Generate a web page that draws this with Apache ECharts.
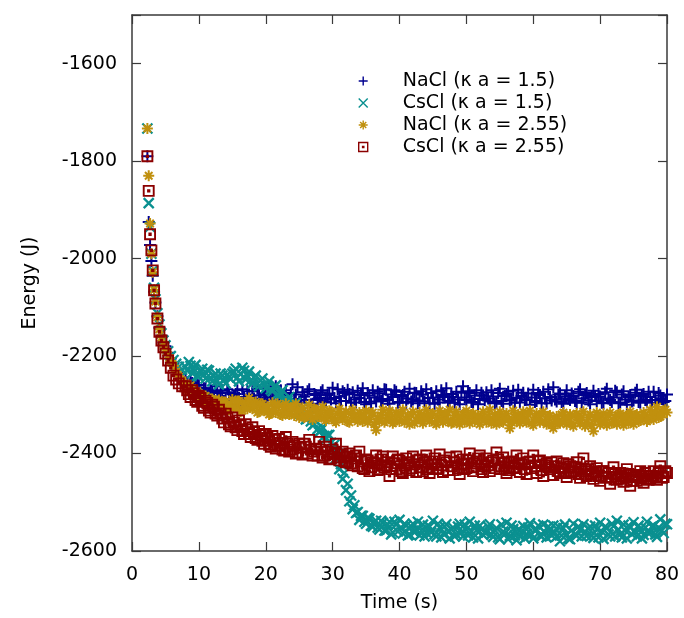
<!DOCTYPE html>
<html>
<head>
<meta charset="utf-8">
<title>Energy vs Time</title>
<script src="https://cdn.jsdelivr.net/npm/echarts@6/dist/echarts.min.js"></script>
<style>
    html, body { margin: 0; padding: 0; background: #fff; }
    #chart { width: 684px; height: 618px; }
</style>
</head>
<body>
<div id="chart"></div>
<script>
// sampling times (s), half-second records
const time = [
    2.3, 2.5, 2.7, 2.9, 3.1, 3.3, 3.5, 3.8, 4.1, 4.4, 4.7, 5.0, 5.4, 5.8, 6.2, 6.6, 7.0, 7.5,
    8, 8.5, 9, 9.5, 10, 10.5, 11, 11.5, 12, 12.5,
    13, 13.5, 14, 14.5, 15, 15.5, 16, 16.5, 17, 17.5,
    18, 18.5, 19, 19.5, 20, 20.5, 21, 21.5, 22, 22.5,
    23, 23.5, 24, 24.5, 25, 25.5, 26, 26.5, 27, 27.5,
    28, 28.5, 29, 29.5, 30, 30.5, 31, 31.5, 32, 32.5,
    33, 33.5, 34, 34.5, 35, 35.5, 36, 36.5, 37, 37.5,
    38, 38.5, 39, 39.5, 40, 40.5, 41, 41.5, 42, 42.5,
    43, 43.5, 44, 44.5, 45, 45.5, 46, 46.5, 47, 47.5,
    48, 48.5, 49, 49.5, 50, 50.5, 51, 51.5, 52, 52.5,
    53, 53.5, 54, 54.5, 55, 55.5, 56, 56.5, 57, 57.5,
    58, 58.5, 59, 59.5, 60, 60.5, 61, 61.5, 62, 62.5,
    63, 63.5, 64, 64.5, 65, 65.5, 66, 66.5, 67, 67.5,
    68, 68.5, 69, 69.5, 70, 70.5, 71, 71.5, 72, 72.5,
    73, 73.5, 74, 74.5, 75, 75.5, 76, 76.5, 77, 77.5,
    78, 78.5, 79, 79.5, 80
];

// in-between records (quarter offsets)
const timeQ = [
    8.25, 8.75, 9.25, 9.75, 10.25, 10.75, 11.25, 11.75, 12.25, 12.75,
    13.25, 13.75, 14.25, 14.75, 15.25, 15.75, 16.25, 16.75, 17.25, 17.75,
    18.25, 18.75, 19.25, 19.75, 20.25, 20.75, 21.25, 21.75, 22.25, 22.75,
    23.25, 23.75, 24.25, 24.75, 25.25, 25.75, 26.25, 26.75, 27.25, 27.75,
    28.25, 28.75, 29.25, 29.75, 30.25, 30.75, 31.25, 31.75, 32.25, 32.75,
    33.25, 33.75, 34.25, 34.75, 35.25, 35.75, 36.25, 36.75, 37.25, 37.75,
    38.25, 38.75, 39.25, 39.75, 40.25, 40.75, 41.25, 41.75, 42.25, 42.75,
    43.25, 43.75, 44.25, 44.75, 45.25, 45.75, 46.25, 46.75, 47.25, 47.75,
    48.25, 48.75, 49.25, 49.75, 50.25, 50.75, 51.25, 51.75, 52.25, 52.75,
    53.25, 53.75, 54.25, 54.75, 55.25, 55.75, 56.25, 56.75, 57.25, 57.75,
    58.25, 58.75, 59.25, 59.75, 60.25, 60.75, 61.25, 61.75, 62.25, 62.75,
    63.25, 63.75, 64.25, 64.75, 65.25, 65.75, 66.25, 66.75, 67.25, 67.75,
    68.25, 68.75, 69.25, 69.75, 70.25, 70.75, 71.25, 71.75, 72.25, 72.75,
    73.25, 73.75, 74.25, 74.75, 75.25, 75.75, 76.25, 76.75, 77.25, 77.75,
    78.25, 78.75, 79.25, 79.75
];

// NaCl (κ a = 1.5)
const nacl15 = [
    -1790, -1925, -1972, -2005, -2035, -2068, -2090, -2118, -2142, -2158, -2172, -2180, -2193, -2205, -2214, -2226, -2236, -2244,
    -2248, -2262, -2255, -2270, -2260, -2275, -2266, -2280, -2271, -2262,
    -2284, -2270, -2288, -2274, -2292, -2278, -2286, -2268, -2290, -2279,
    -2272, -2291, -2281, -2295, -2276, -2266, -2289, -2262, -2284, -2294,
    -2270, -2288, -2258, -2279, -2296, -2274, -2290, -2268, -2298, -2280,
    -2286, -2270, -2293, -2277, -2265, -2297, -2283, -2272, -2292, -2278,
    -2274, -2295, -2286, -2266, -2299, -2281, -2270, -2293, -2277, -2288,
    -2269, -2298, -2284, -2273, -2294, -2280, -2296, -2267, -2289, -2276,
    -2291, -2279, -2268, -2297, -2285, -2272, -2295, -2280, -2266, -2292,
    -2284, -2273, -2299, -2262, -2290, -2276, -2296, -2270, -2288, -2281,
    -2274, -2293, -2283, -2296, -2267, -2298, -2278, -2291, -2271, -2286,
    -2295, -2275, -2289, -2300, -2269, -2292, -2280, -2273, -2297, -2284,
    -2264, -2293, -2277, -2298, -2270, -2290, -2282, -2296, -2268, -2287,
    -2276, -2299, -2271, -2292, -2283, -2297, -2267, -2290, -2285, -2274,
    -2295, -2272, -2300, -2280, -2291, -2269, -2296, -2278, -2293, -2284,
    -2273, -2297, -2281, -2294, -2279
];
const nacl15Q = [
    -2258, -2251, -2268, -2259, -2274, -2266, -2281, -2270, -2285, -2274,
    -2276, -2292, -2268, -2288, -2282, -2270, -2296, -2284, -2272, -2293,
    -2287, -2267, -2294, -2279, -2290, -2284, -2275, -2297, -2270, -2286,
    -2293, -2276, -2288, -2264, -2291, -2283, -2272, -2299, -2278, -2290,
    -2274, -2295, -2280, -2289, -2286, -2268, -2292, -2276, -2269, -2296,
    -2289, -2271, -2280, -2294, -2276, -2297, -2285, -2273, -2292, -2268,
    -2290, -2279, -2270, -2296, -2282, -2273, -2287, -2293, -2275, -2297,
    -2272, -2293, -2286, -2276, -2298, -2289, -2270, -2284, -2295, -2278,
    -2296, -2289, -2275, -2285, -2272, -2294, -2281, -2299, -2275, -2290,
    -2287, -2270, -2297, -2276, -2292, -2282, -2273, -2289, -2296, -2269,
    -2282, -2290, -2277, -2285, -2294, -2276, -2297, -2287, -2268, -2291,
    -2289, -2279, -2294, -2283, -2287, -2277, -2292, -2273, -2295, -2280,
    -2291, -2284, -2282, -2278, -2296, -2274, -2287, -2294, -2271, -2297,
    -2279, -2289, -2284, -2293, -2275, -2294, -2282, -2290, -2273, -2296,
    -2290, -2276, -2288, -2292
];

// CsCl (κ a = 1.5)
const cscl15 = [
    -1733, -1886, -1935, -1990, -2025, -2060, -2083, -2112, -2135, -2153, -2168, -2178, -2190, -2200, -2208, -2216, -2222, -2228,
    -2222, -2212, -2235, -2218, -2242, -2226, -2246, -2230, -2252, -2236,
    -2258, -2240, -2256, -2244, -2236, -2226, -2252, -2224, -2248, -2232,
    -2256, -2240, -2262, -2246, -2266, -2252, -2272, -2260, -2284, -2270,
    -2296, -2284, -2308, -2296, -2318, -2306, -2330, -2320, -2342, -2334,
    -2356, -2346, -2370, -2362, -2392, -2410, -2432, -2452, -2475, -2498,
    -2514, -2522, -2536, -2528, -2544, -2534, -2550, -2538, -2556, -2542,
    -2558, -2540, -2562, -2546, -2536, -2564, -2548, -2566, -2544, -2555,
    -2568, -2546, -2562, -2550, -2538, -2570, -2552, -2564, -2545, -2574,
    -2552, -2566, -2544, -2570, -2556, -2540, -2572, -2558, -2548, -2567,
    -2562, -2545, -2571, -2553, -2576, -2560, -2542, -2569, -2555, -2578,
    -2570, -2549, -2565, -2543, -2574, -2556, -2568, -2546, -2572, -2558,
    -2548, -2570, -2580, -2553, -2566, -2576, -2544, -2568, -2557, -2545,
    -2569, -2550, -2573, -2556, -2542, -2575, -2553, -2570, -2549, -2538,
    -2566, -2546, -2574, -2552, -2541, -2570, -2555, -2567, -2540, -2562,
    -2548, -2571, -2535, -2563, -2545
];
const cscl15Q = [
    -2230, -2220, -2226, -2240, -2232, -2238, -2228, -2244, -2240, -2250,
    -2236, -2250, -2238, -2247, -2232, -2244, -2236, -2230, -2240, -2250,
    -2244, -2256, -2250, -2258, -2262, -2268, -2264, -2278, -2276, -2290,
    -2292, -2302, -2300, -2312, -2316, -2322, -2328, -2334, -2340, -2350,
    -2352, -2364, -2362, -2378, -2382, -2400, -2422, -2440, -2462, -2486,
    -2506, -2520, -2528, -2540, -2532, -2548, -2540, -2552, -2538, -2558,
    -2546, -2566, -2540, -2560, -2552, -2544, -2568, -2550, -2562, -2540,
    -2558, -2570, -2548, -2562, -2566, -2544, -2572, -2550, -2560, -2556,
    -2570, -2550, -2562, -2546, -2568, -2560, -2548, -2574, -2556, -2562,
    -2550, -2566, -2558, -2572, -2546, -2564, -2576, -2548, -2568, -2556,
    -2560, -2574, -2552, -2566, -2558, -2548, -2570, -2562, -2550, -2568,
    -2562, -2550, -2568, -2546, -2574, -2558, -2566, -2550, -2570, -2560,
    -2554, -2568, -2548, -2572, -2560, -2550, -2566, -2544, -2570, -2556,
    -2572, -2558, -2548, -2566, -2560, -2548, -2574, -2552, -2564, -2550,
    -2566, -2552, -2558, -2544
];

// NaCl (κ a = 2.55)
const nacl255 = [
    -1733, -1830, -1928, -1990, -2028, -2064, -2088, -2120, -2145, -2162, -2176, -2187, -2198, -2210, -2220, -2232, -2242, -2250,
    -2256, -2270, -2266, -2282, -2276, -2293, -2282, -2296, -2288, -2300,
    -2290, -2306, -2294, -2310, -2289, -2304, -2292, -2312, -2296, -2286,
    -2308, -2294, -2314, -2298, -2310, -2320, -2296, -2316, -2302, -2322,
    -2298, -2320, -2306, -2298, -2326, -2306, -2324, -2300, -2330, -2310,
    -2324, -2304, -2332, -2312, -2328, -2336, -2308, -2330, -2314, -2336,
    -2310, -2328, -2316, -2334, -2312, -2330, -2316, -2352, -2334, -2310,
    -2332, -2312, -2338, -2316, -2334, -2310, -2330, -2340, -2314, -2332,
    -2316, -2338, -2310, -2334, -2318, -2340, -2312, -2336, -2322, -2310,
    -2336, -2314, -2340, -2320, -2312, -2338, -2318, -2330, -2340, -2314,
    -2336, -2310, -2332, -2340, -2314, -2336, -2318, -2348, -2312, -2334,
    -2338, -2314, -2336, -2312, -2342, -2318, -2336, -2314, -2340, -2322,
    -2348, -2324, -2338, -2316, -2340, -2320, -2344, -2318, -2338, -2314,
    -2336, -2320, -2354, -2316, -2340, -2318, -2342, -2316, -2336, -2340,
    -2318, -2342, -2322, -2314, -2340, -2320, -2332, -2316, -2334, -2310,
    -2330, -2304, -2324, -2312, -2316
];
const nacl255Q = [
    -2268, -2260, -2280, -2272, -2292, -2282, -2298, -2288, -2304, -2292,
    -2302, -2294, -2310, -2298, -2306, -2292, -2314, -2300, -2308, -2296,
    -2302, -2316, -2298, -2312, -2304, -2318, -2308, -2298, -2320, -2310,
    -2318, -2306, -2322, -2312, -2310, -2326, -2316, -2322, -2308, -2324,
    -2316, -2328, -2320, -2314, -2332, -2318, -2326, -2320, -2334, -2318,
    -2326, -2334, -2320, -2324, -2336, -2318, -2340, -2328, -2322, -2336,
    -2320, -2328, -2334, -2322, -2318, -2336, -2324, -2320, -2338, -2326,
    -2330, -2322, -2326, -2320, -2336, -2326, -2330, -2318, -2332, -2338,
    -2322, -2330, -2324, -2336, -2328, -2320, -2334, -2322, -2326, -2330,
    -2324, -2338, -2320, -2326, -2334, -2322, -2330, -2336, -2326, -2320,
    -2326, -2332, -2320, -2338, -2326, -2330, -2320, -2334, -2324, -2340,
    -2330, -2336, -2320, -2332, -2326, -2338, -2322, -2330, -2326, -2344,
    -2326, -2342, -2330, -2324, -2336, -2330, -2322, -2338, -2326, -2320,
    -2332, -2326, -2338, -2328, -2322, -2334, -2326, -2320, -2330, -2322,
    -2316, -2326, -2320, -2310
];

// CsCl (κ a = 2.55)
const cscl255 = [
    -1790, -1861, -1950, -1983, -2024, -2065, -2092, -2123, -2150, -2168, -2182, -2195, -2209, -2224, -2240, -2248, -2256, -2262,
    -2262, -2278, -2270, -2290, -2282, -2302, -2292, -2312, -2300, -2318,
    -2310, -2328, -2318, -2340, -2326, -2346, -2332, -2354, -2340, -2360,
    -2346, -2368, -2354, -2374, -2360, -2382, -2364, -2390, -2370, -2392,
    -2366, -2396, -2376, -2400, -2380, -2402, -2386, -2372, -2404, -2390,
    -2376, -2408, -2386, -2412, -2392, -2380, -2414, -2396, -2418, -2400,
    -2424, -2404, -2396, -2430, -2412, -2436, -2418, -2404, -2432, -2406,
    -2424, -2446, -2406, -2432, -2414, -2440, -2410, -2434, -2406, -2438,
    -2412, -2436, -2404, -2440, -2416, -2432, -2402, -2438, -2418, -2408,
    -2434, -2406, -2442, -2412, -2430, -2400, -2436, -2416, -2404, -2438,
    -2410, -2436, -2414, -2398, -2432, -2408, -2440, -2418, -2430, -2404,
    -2438, -2410, -2442, -2416, -2404, -2440, -2414, -2446, -2420, -2432,
    -2444, -2416, -2440, -2420, -2448, -2426, -2436, -2418, -2450, -2410,
    -2446, -2426, -2452, -2430, -2456, -2436, -2448, -2462, -2428, -2454,
    -2440, -2458, -2432, -2466, -2444, -2456, -2436, -2460, -2446, -2452,
    -2436, -2454, -2426, -2448, -2440
];
const cscl255Q = [
    -2270, -2284, -2276, -2294, -2286, -2306, -2296, -2316, -2304, -2322,
    -2318, -2336, -2326, -2344, -2336, -2352, -2342, -2360, -2350, -2366,
    -2356, -2372, -2362, -2380, -2368, -2386, -2372, -2384, -2378, -2394,
    -2380, -2392, -2384, -2398, -2388, -2380, -2400, -2392, -2396, -2404,
    -2392, -2404, -2396, -2410, -2398, -2408, -2402, -2416, -2406, -2420,
    -2410, -2426, -2416, -2432, -2414, -2428, -2420, -2434, -2412, -2428,
    -2418, -2432, -2420, -2412, -2436, -2424, -2418, -2430, -2422, -2414,
    -2428, -2418, -2432, -2422, -2410, -2430, -2424, -2414, -2434, -2426,
    -2418, -2430, -2422, -2432, -2414, -2428, -2420, -2410, -2432, -2426,
    -2424, -2418, -2430, -2412, -2426, -2420, -2434, -2416, -2428, -2420,
    -2422, -2432, -2418, -2430, -2426, -2416, -2434, -2424, -2428, -2418,
    -2426, -2436, -2430, -2440, -2422, -2438, -2428, -2442, -2432, -2436,
    -2432, -2442, -2438, -2446, -2436, -2450, -2440, -2448, -2442, -2452,
    -2446, -2450, -2442, -2456, -2448, -2444, -2452, -2440, -2454, -2446,
    -2448, -2440, -2450, -2436
];

const seriesNames = ['NaCl (κ a = 1.5)', 'CsCl (κ a = 1.5)', 'NaCl (κ a = 2.55)', 'CsCl (κ a = 2.55)'];
const yTicks = [-2600, -2400, -2200, -2000, -1800, -1600];
const xTicks = [0, 10, 20, 30, 40, 50, 60, 70, 80];

document.addEventListener("DOMContentLoaded", function () {

    let el = document.getElementById('chart');
    let chart = echarts.init(el, null, { renderer: 'canvas' });

    const FONT = 'DejaVu Sans';
    const frame = '#3a3a3a';

    // gnuplot-like point types, drawn as strokes
    const symPlus = 'path://M5,0L5,10M0,5L10,5';
    const symCross = 'path://M0,0L10,10M10,0L0,10';
    const symStar = 'path://M5,0L5,10M0,5L10,5M1.6,1.6L8.4,8.4M8.4,1.6L1.6,8.4';
    const symBox = 'path://M0,0L10,0L10,10L0,10ZM4.3,4.3L5.7,4.3L5.7,5.7L4.3,5.7Z';

    let main = [nacl15, cscl15, nacl255, cscl255];
    let extra = [nacl15Q, cscl15Q, nacl255Q, cscl255Q];
    let colors = ['#00008f', '#0a9090', '#c0900e', '#8b0000'];
    let symbols = [symPlus, symCross, symStar, symBox];
    let sizes = [12, 10, 11, 10];
    let widths = [2, 2.3, 2, 1.9];

    let series = main.map((vals, i) => {
        let pts = time.map((t, k) => [t, vals[k]])
            .concat(timeQ.map((t, k) => [t, extra[i][k]]));
        return {
            name: seriesNames[i],
            type: 'scatter',
            symbol: symbols[i],
            symbolSize: sizes[i],
            data: pts,
            itemStyle: {
                color: 'transparent',
                borderColor: colors[i],
                borderWidth: widths[i],
                opacity: 1
            },
            emphasis: { disabled: true },
            z: 2 + i
        };
    });

    let axisCommon = {
        type: 'value',
        axisLine: { show: true, onZero: false, lineStyle: { color: frame, width: 1.5 } },
        axisTick: { show: true, inside: true, length: 9, lineStyle: { color: frame, width: 1.2 } },
        splitLine: { show: false }
    };

    chart.setOption({
        animation: false,
        backgroundColor: '#fff',
        grid: { left: 132, right: 17, top: 15, bottom: 67 },
        legend: {
            orient: 'vertical',
            left: 353,
            top: 65,
            itemWidth: 9,
            itemHeight: 9,
            itemGap: 0,
            data: seriesNames,
            itemStyle: { borderWidth: 1.4 },
            textStyle: {
                fontFamily: FONT,
                fontSize: 19,
                color: '#000',
                lineHeight: 22,
                padding: [0, 0, 0, 30]
            }
        },
        xAxis: [
            Object.assign({}, axisCommon, {
                min: 0, max: 80, interval: 10,
                position: 'bottom',
                name: 'Time (s)',
                nameLocation: 'middle',
                nameGap: 43,
                nameTextStyle: { fontFamily: FONT, fontSize: 19, color: '#000' },
                axisLabel: {
                    fontFamily: FONT, fontSize: 19, color: '#000', margin: 15,
                    formatter: v => xTicks.includes(v) ? String(v) : ''
                }
            }),
            Object.assign({}, axisCommon, {
                min: 0, max: 80, interval: 10,
                position: 'top',
                axisLabel: { show: false }
            })
        ],
        yAxis: [
            Object.assign({}, axisCommon, {
                min: -2600, max: -1500, interval: 200,
                position: 'left',
                name: 'Energy (J)',
                nameLocation: 'middle',
                nameGap: 92,
                nameTextStyle: { fontFamily: FONT, fontSize: 19, color: '#000' },
                axisLabel: {
                    fontFamily: FONT, fontSize: 19, color: '#000', margin: 15,
                    formatter: v => yTicks.includes(v) ? String(v) : ''
                }
            }),
            Object.assign({}, axisCommon, {
                min: -2600, max: -1500, interval: 200,
                position: 'right',
                axisLabel: { show: false }
            })
        ],
        series: series
    });

});
</script>
</body>
</html>
